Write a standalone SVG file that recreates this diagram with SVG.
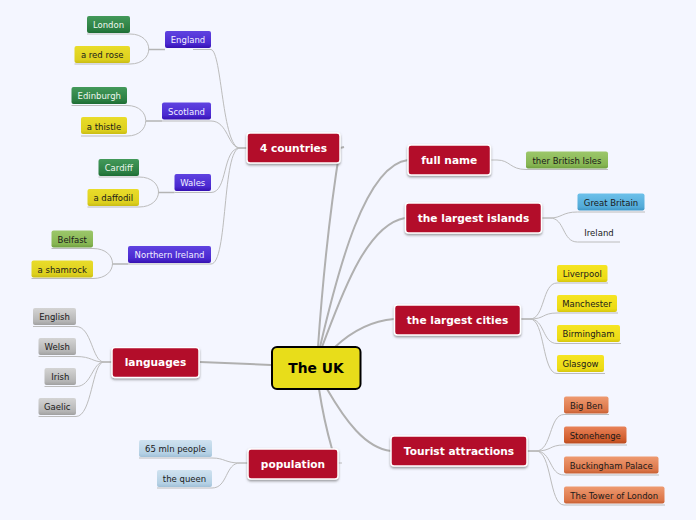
<svg xmlns="http://www.w3.org/2000/svg" width="696" height="520" viewBox="0 0 696 520">
<style>
text{font-family:"DejaVu Sans",Verdana,sans-serif;font-size:8.5px;text-anchor:middle;fill:#1a1a1a}
.w{fill:#f2efff}.wg{fill:#eef7ee}
.main{fill:#b30a2b;stroke:#fff;stroke-width:1.5;filter:url(#sh)}
.mt{font-size:10.6px;font-weight:bold;fill:#fff}
.c1{fill:none;stroke:#b0b0b0;stroke-width:2}
.c2{fill:none;stroke:#b4b4b4;stroke-width:1.5}
.c3{fill:none;stroke:#bcbcbc;stroke-width:1}
</style>
<defs>
<filter id="sh" x="-10%" y="-15%" width="120%" height="140%"><feDropShadow dx="0" dy="1.5" stdDeviation="1" flood-color="#555" flood-opacity=".6"/></filter>
<linearGradient id="pur" x1="0" y1="0" x2="0" y2="1"><stop offset="0" stop-color="#5f43e0"/><stop offset=".75" stop-color="#4a28d0"/><stop offset="1" stop-color="#3510b0"/></linearGradient>
<linearGradient id="grn" x1="0" y1="0" x2="0" y2="1"><stop offset="0" stop-color="#43995a"/><stop offset=".8" stop-color="#2a7d41"/><stop offset="1" stop-color="#1c6c33"/></linearGradient>
<linearGradient id="yel" x1="0" y1="0" x2="0" y2="1"><stop offset="0" stop-color="#e9dc2a"/><stop offset=".8" stop-color="#ddd01e"/><stop offset="1" stop-color="#c9bc14"/></linearGradient>
<linearGradient id="yel2" x1="0" y1="0" x2="0" y2="1"><stop offset="0" stop-color="#f6e523"/><stop offset=".8" stop-color="#ecdb16"/><stop offset="1" stop-color="#d6c60e"/></linearGradient>
<linearGradient id="lg" x1="0" y1="0" x2="0" y2="1"><stop offset="0" stop-color="#9cc76a"/><stop offset=".8" stop-color="#86b552"/><stop offset="1" stop-color="#6f9f3e"/></linearGradient>
<linearGradient id="gry" x1="0" y1="0" x2="0" y2="1"><stop offset="0" stop-color="#d4d4d4"/><stop offset=".8" stop-color="#b4b4b4"/><stop offset="1" stop-color="#a0a0a0"/></linearGradient>
<linearGradient id="lb" x1="0" y1="0" x2="0" y2="1"><stop offset="0" stop-color="#cfe2f0"/><stop offset=".8" stop-color="#b4d0e4"/><stop offset="1" stop-color="#a0c0d8"/></linearGradient>
<linearGradient id="blu" x1="0" y1="0" x2="0" y2="1"><stop offset="0" stop-color="#6cc0ea"/><stop offset=".8" stop-color="#52aad8"/><stop offset="1" stop-color="#3d96c6"/></linearGradient>
<linearGradient id="or" x1="0" y1="0" x2="0" y2="1"><stop offset="0" stop-color="#ee9a70"/><stop offset=".8" stop-color="#dc7548"/><stop offset="1" stop-color="#c65f32"/></linearGradient>
<linearGradient id="or2" x1="0" y1="0" x2="0" y2="1"><stop offset="0" stop-color="#e88258"/><stop offset=".8" stop-color="#cf5a2a"/><stop offset="1" stop-color="#b84a1e"/></linearGradient>
</defs>
<rect width="696" height="520" fill="#f4f6ff"/>
<g id="connectors">
<path class="c1" d="M318 347C322 290 330 210 340 148L344 147"/>
<path class="c1" d="M320 347C338 270 365 165 408 160"/>
<path class="c1" d="M322 347C340 300 365 225 405 218"/>
<path class="c1" d="M335 347C350 333 370 321 394 319"/>
<path class="c1" d="M327 389C345 420 365 448 391 451"/>
<path class="c1" d="M319 389C323 415 328 435 332 449"/>
<path class="c3" d="M338 463L342 463"/>
<path class="c1" d="M271 365L200 362"/>
<path class="c3" d="M247 148H240C222 148 222 51 211 49.500H193"/>
<path class="c3" d="M247 148H240C228 148 228 121 211 121H162"/>
<path class="c3" d="M247 148H240C222 148 228 192.500 211 192.500H174.500"/>
<path class="c3" d="M247 148H240C222 148 228 264 211 264H128"/>
<path class="c2" d="M165 49.500H149"/><path class="c3" d="M87 34H130C155 34 155 64 130 64H74.500"/>
<path class="c2" d="M162 121H146"/><path class="c3" d="M71.500 105.500H127C152 105.500 152 136 127 136H81"/>
<path class="c2" d="M174.500 192.500H158"/><path class="c3" d="M98.500 177H139C165 177 165 207 139 207H87.500"/>
<path class="c2" d="M128 264H112"/><path class="c3" d="M51.500 248.500H93C119 248.500 119 278.500 93 278.500H31.500"/>
<path class="c3" d="M112 362H104C92 362 92 326.500 76 326.500H33"/>
<path class="c3" d="M112 362H104C92 362 92 356.500 76 356.500H38.500"/>
<path class="c3" d="M112 362H104C92 362 92 386.500 76 386.500H44.500"/>
<path class="c3" d="M112 362H104C92 362 92 416.500 76 416.500H38.500"/>
<path class="c3" d="M248 463H240C225 463 225 458 212 458H139"/>
<path class="c3" d="M248 463H240C225 463 228 488 212 488H157"/>
<path class="c3" d="M491 160H497C510 160 510 169.500 526 169.500H608"/>
<path class="c3" d="M542 218H550C562 218 562 212 577.500 212H645"/>
<path class="c3" d="M542 218H550C565 218 562 242 577.500 242H620"/>
<path class="c3" d="M521 319H530C545 319 542 283 557 283H608"/>
<path class="c3" d="M521 319H530C545 319 542 313 557 313H618"/>
<path class="c3" d="M521 319H530C545 319 542 343.500 557 343.500H621"/>
<path class="c3" d="M521 319H530C545 319 542 373.500 557 373.500H605"/>
<path class="c3" d="M527 451H536C552 451 549 414.500 564 414.500H609"/>
<path class="c3" d="M527 451H536C552 451 549 445 564 445H627"/>
<path class="c3" d="M527 451H536C552 451 549 475 564 475H659"/>
<path class="c3" d="M527 451H536C552 451 549 505 564 505H665"/>
</g>
<g id="root"><rect x="272" y="347" width="88.500" height="42" rx="5" fill="#e8dd1a" stroke="#000" stroke-width="2"/><text x="316" y="373" style="font-size:13.800px;font-weight:bold;fill:#000">The UK</text></g>
<g id="n4countries"><rect class="main" x="247" y="133" width="93" height="30" rx="3"/><text class="mt" x="293.500" y="152">4 countries</text></g>
<g id="nlanguages"><rect class="main" x="112" y="347.500" width="87" height="30" rx="3"/><text class="mt" x="155.500" y="366">languages</text></g>
<g id="npopulation"><rect class="main" x="248" y="449" width="90" height="30" rx="3"/><text class="mt" x="293" y="468">population</text></g>
<g id="nfullname"><rect class="main" x="408" y="145" width="82.500" height="30" rx="3"/><text class="mt" x="449.250" y="164">full name</text></g>
<g id="nislands"><rect class="main" x="405.500" y="203" width="136" height="30" rx="3"/><text class="mt" x="473.500" y="222">the largest islands</text></g>
<g id="ncities"><rect class="main" x="394.500" y="305" width="126" height="30" rx="3"/><text class="mt" x="457.500" y="323.500">the largest cities</text></g>
<g id="ntourist"><rect class="main" x="391" y="436" width="136" height="30" rx="3"/><text class="mt" x="459" y="455">Tourist attractions</text></g>
<g id="england"><rect x="165" y="31" width="46" height="17" rx="2" fill="url(#pur)"/><text class="w" x="188" y="43">England</text></g>
<g id="scotland"><rect x="162" y="102.500" width="49" height="17" rx="2" fill="url(#pur)"/><text class="w" x="186.500" y="115">Scotland</text></g>
<g id="wales"><rect x="174.500" y="174" width="36.500" height="17" rx="2" fill="url(#pur)"/><text class="w" x="192.750" y="186">Wales</text></g>
<g id="nireland"><rect x="128" y="246" width="83" height="17" rx="2" fill="url(#pur)"/><text class="w" x="169.500" y="258">Northern Ireland</text></g>
<g id="london"><rect x="87" y="16" width="43" height="17" rx="2" fill="url(#grn)"/><text class="wg" x="108.500" y="28">London</text></g>
<g id="redrose"><rect x="74.500" y="46" width="55.500" height="17" rx="2" fill="url(#yel)"/><text x="102.250" y="58">a red rose</text></g>
<g id="edinburgh"><rect x="71.500" y="87" width="55.500" height="17" rx="2" fill="url(#grn)"/><text class="wg" x="99.250" y="99">Edinburgh</text></g>
<g id="thistle"><rect x="81" y="117" width="46" height="17" rx="2" fill="url(#yel)"/><text x="104" y="130">a thistle</text></g>
<g id="cardiff"><rect x="98.500" y="159" width="40.500" height="17" rx="2" fill="url(#grn)"/><text class="wg" x="118.750" y="171">Cardiff</text></g>
<g id="daffodil"><rect x="87.500" y="189" width="51.500" height="17" rx="2" fill="url(#yel)"/><text x="113.250" y="201">a daffodil</text></g>
<g id="belfast"><rect x="51.500" y="230.500" width="41.500" height="17" rx="2" fill="url(#lg)"/><text x="72.250" y="243">Belfast</text></g>
<g id="shamrock"><rect x="31.500" y="260.500" width="61.500" height="17" rx="2" fill="url(#yel)"/><text x="62.250" y="273">a shamrock</text></g>
<g id="english"><rect x="33" y="308" width="43" height="17" rx="2" fill="url(#gry)"/><text x="54.500" y="320">English</text></g>
<g id="welsh"><rect x="38.500" y="338" width="37.500" height="17" rx="2" fill="url(#gry)"/><text x="57.250" y="350">Welsh</text></g>
<g id="irish"><rect x="44.500" y="368" width="31.500" height="17" rx="2" fill="url(#gry)"/><text x="60.250" y="380">Irish</text></g>
<g id="gaelic"><rect x="38.500" y="398" width="37.500" height="17" rx="2" fill="url(#gry)"/><text x="57.250" y="410">Gaelic</text></g>
<g id="mln"><rect x="139" y="440" width="73" height="17" rx="2" fill="url(#lb)"/><text x="175.500" y="452">65 mln people</text></g>
<g id="queen"><rect x="157" y="470" width="55" height="17" rx="2" fill="url(#lb)"/><text x="184.500" y="482">the queen</text></g>
<g id="british"><rect x="526" y="151.500" width="82" height="17" rx="2" fill="url(#lg)"/><text x="567" y="163.500">ther British Isles</text></g>
<g id="gb"><rect x="577.500" y="193.500" width="67" height="17" rx="2" fill="url(#blu)"/><text x="611" y="206">Great Britain</text></g>
<g id="ireland"><text x="599" y="236">Ireland</text></g>
<g id="liverpool"><rect x="557" y="265" width="50.500" height="17" rx="2" fill="url(#yel2)"/><text x="582.250" y="277">Liverpool</text></g>
<g id="manchester"><rect x="557" y="295" width="60" height="17" rx="2" fill="url(#yel2)"/><text x="587" y="307">Manchester</text></g>
<g id="birmingham"><rect x="557" y="325" width="63" height="17" rx="2" fill="url(#yel2)"/><text x="588.500" y="337">Birmingham</text></g>
<g id="glasgow"><rect x="557" y="355" width="47" height="17" rx="2" fill="url(#yel2)"/><text x="580.500" y="367">Glasgow</text></g>
<g id="bigben"><rect x="564" y="396.500" width="44.500" height="17" rx="2" fill="url(#or)"/><text x="586.250" y="409">Big Ben</text></g>
<g id="stonehenge"><rect x="564" y="426.500" width="62.500" height="17" rx="2" fill="url(#or2)"/><text x="595.250" y="439">Stonehenge</text></g>
<g id="buckingham"><rect x="564" y="456.500" width="94.500" height="17" rx="2" fill="url(#or)"/><text x="611.250" y="469">Buckingham Palace</text></g>
<g id="tower"><rect x="564" y="486.500" width="100.500" height="17" rx="2" fill="url(#or)"/><text x="614.250" y="499">The Tower of London</text></g>
</svg>
